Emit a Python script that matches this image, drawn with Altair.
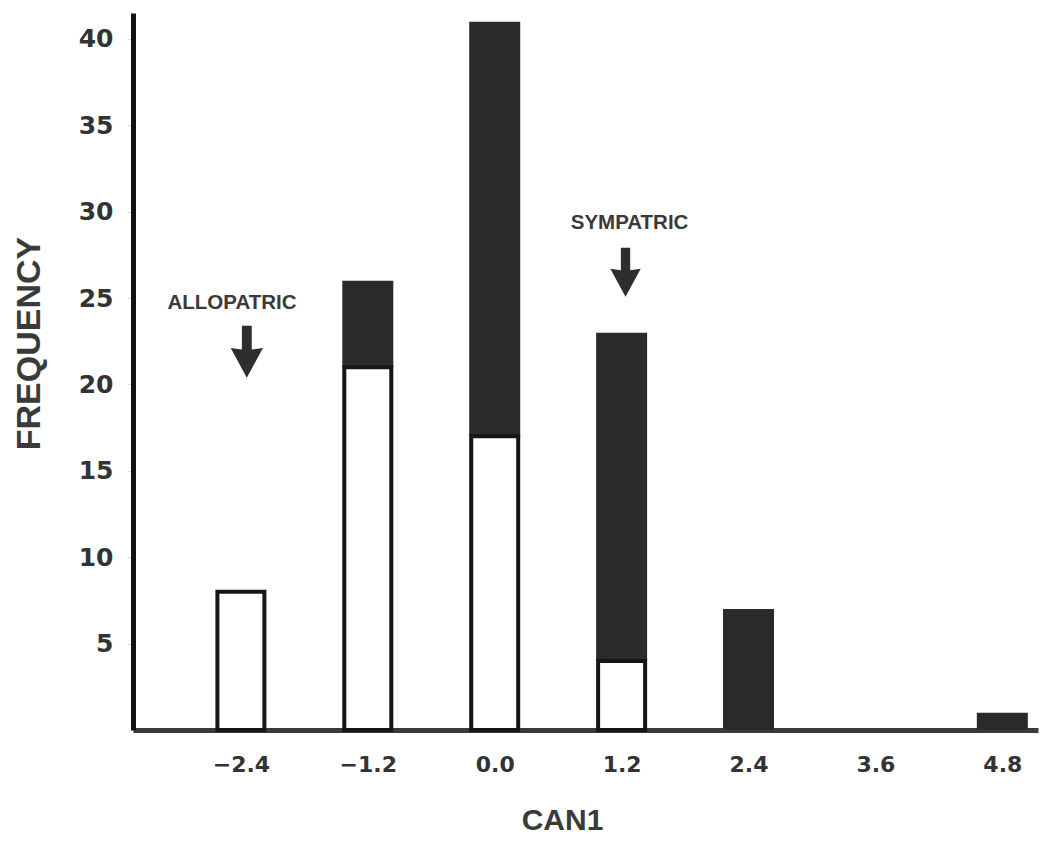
import altair as alt
import pandas as pd

# CAN1 bin centres and counts per bin
can1 = [-2.4, -1.2, 0.0, 1.2, 2.4, 3.6, 4.8]
allopatric = [8, 21, 17, 4, 0, 0, 0]
sympatric = [0, 5, 24, 19, 7, 0, 1]

# Annotation labels and the arrows that point at the two groups
note_text = ["ALLOPATRIC", "SYMPATRIC"]
note_x = [-2.484, 1.275]
note_y = [24.7, 29.35]
arrow_x = [-2.344, 1.237]
arrow_y = [21.9, 26.5]
arrow_len = [52, 49]

y_ticks = [5, 10, 15, 20, 25, 30, 35, 40]

bars = pd.DataFrame({"can1": can1, "allo": allopatric, "sym": sympatric})
bars["total"] = bars["allo"] + bars["sym"]
notes = pd.DataFrame({"label": note_text, "x": note_x, "y": note_y})
arrows = pd.DataFrame({"x": arrow_x, "y": arrow_y,
                       "s": [v * v for v in arrow_len]})

x_scale = alt.Scale(domain=[-3.373, 5.09], nice=False, zero=False)
y_scale = alt.Scale(domain=[0, 41.5], nice=False)

x_axis = alt.Axis(
    values=can1, format=".1f", title="CAN1", grid=False, ticks=False,
    labelFont="DejaVu Sans", labelFontWeight="bold", labelFontSize=22,
    labelColor="#333333", labelPadding=24,
    domainColor="#3a3a3a", domainWidth=5,
    titleFont="Liberation Sans", titleFontWeight="bold", titleFontSize=30,
    titleColor="#3a3a3a", titleX=429, titleY=90, titleBaseline="middle",
    titleAlign="center", titleAnchor="start",
)
y_axis = alt.Axis(
    values=y_ticks, title="FREQUENCY", grid=False, tickSize=5,
    tickColor="#cfcfcf", tickWidth=1,
    labelFont="DejaVu Sans", labelFontWeight="bold", labelFontSize=25,
    labelColor="#333333", labelPadding=15,
    domainColor="#111111", domainWidth=5,
    titleFont="Liberation Sans", titleFontWeight="bold", titleFontSize=34,
    titleColor="#3a3a3a", titleX=-104, titleY=330, titleAngle=-90,
    titleBaseline="middle", titleAlign="center", titleAnchor="start",
)

base = alt.Chart(bars)

# Sympatric part of each bar, stacked on top of the allopatric count
sym_bars = base.transform_filter("datum.sym > 0").mark_bar(
    size=51, color="#2a2a2a"
).encode(
    x=alt.X("can1:Q", scale=x_scale, axis=x_axis),
    y=alt.Y("allo:Q", scale=y_scale, axis=y_axis),
    y2="total:Q",
)

# Allopatric part: open bars with a heavy outline
allo_bars = base.transform_filter("datum.allo > 0").mark_bar(
    size=47, fill="white", stroke="#151515", strokeWidth=4
).encode(
    x=alt.X("can1:Q", scale=x_scale),
    y=alt.Y("allo:Q", scale=y_scale),
)

labels = alt.Chart(notes).mark_text(
    font="Liberation Sans", fontWeight="bold", fontSize=20.5,
    color="#3a3a3a", baseline="middle", align="center"
).encode(
    x=alt.X("x:Q", scale=x_scale),
    y=alt.Y("y:Q", scale=y_scale),
    text="label:N",
)

arrow_shape = ("M -0.19 -1 L 0.19 -1 L 0.19 -0.08 L 0.62 -0.14 "
               "L 0 1 L -0.62 -0.14 L -0.19 -0.08 Z")
pointers = alt.Chart(arrows).mark_point(
    shape=arrow_shape, filled=True, color="#2e2e2e", opacity=1, strokeWidth=0
).encode(
    x=alt.X("x:Q", scale=x_scale),
    y=alt.Y("y:Q", scale=y_scale),
    size=alt.Size("s:Q", scale=None, legend=None),
)

chart = alt.layer(sym_bars, allo_bars, labels, pointers).properties(
    width=905, height=717,
    autosize=alt.AutoSizeParams(type="none"),
    padding={"left": 133, "top": 13, "right": 3, "bottom": 113},
    background="white",
).configure_view(stroke=None)

chart.save("out.html", embed_options={"renderer": "svg", "actions": False})
